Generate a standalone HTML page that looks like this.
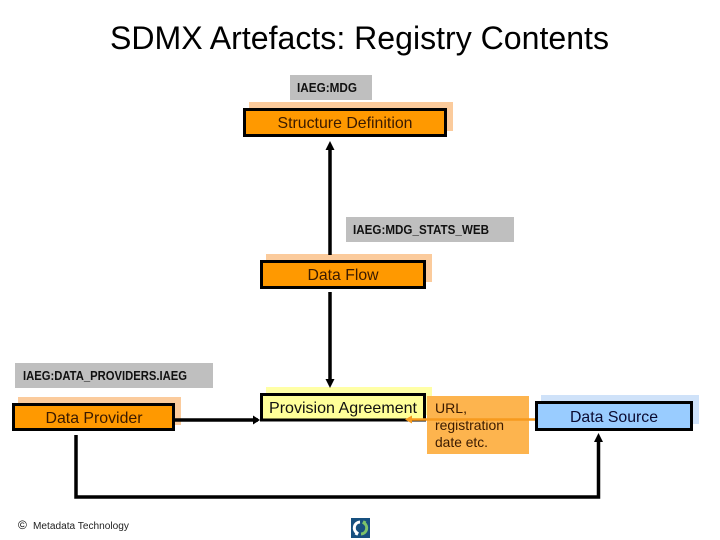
<!DOCTYPE html>
<html><head><meta charset="utf-8"><style>
html,body{margin:0;padding:0;background:#fff}
svg{display:block}
text{font-family:"Liberation Sans",sans-serif}
.b{font-family:"Liberation Sans",sans-serif;font-weight:bold;font-size:13px;fill:#111}
</style></head><body>
<svg width="720" height="540" viewBox="0 0 720 540" xmlns="http://www.w3.org/2000/svg">
<text x="110" y="49" font-size="32" fill="#000" textLength="499" lengthAdjust="spacingAndGlyphs">SDMX Artefacts: Registry Contents</text>

<rect x="290" y="75" width="82" height="25" fill="#bfbfbf"/>
<text x="297" y="92" class="b" textLength="60" lengthAdjust="spacingAndGlyphs">IAEG:MDG</text>
<rect x="249" y="102" width="204" height="29" fill="#fbcb9c"/>
<rect x="244.500" y="109.500" width="201" height="26" fill="#ff9900" stroke="#000" stroke-width="3"/>
<text x="345" y="128" font-size="16" fill="#3a1a00" text-anchor="middle" textLength="135" lengthAdjust="spacingAndGlyphs">Structure Definition</text>

<rect x="346" y="217" width="168" height="25" fill="#bfbfbf"/>
<text x="353" y="234" class="b" textLength="136" lengthAdjust="spacingAndGlyphs">IAEG:MDG_STATS_WEB</text>
<rect x="266" y="254" width="166" height="28" fill="#fbcb9c"/>
<rect x="261.500" y="261.500" width="163" height="26" fill="#ff9900" stroke="#000" stroke-width="3"/>
<text x="343" y="280" font-size="16" fill="#3a1a00" text-anchor="middle" textLength="71" lengthAdjust="spacingAndGlyphs">Data Flow</text>

<rect x="15" y="363" width="198" height="25" fill="#bfbfbf"/>
<text x="23" y="380" class="b" textLength="164" lengthAdjust="spacingAndGlyphs">IAEG:DATA_PROVIDERS.IAEG</text>
<rect x="18" y="397" width="163" height="28" fill="#fbcb9c"/>
<rect x="13.500" y="404.500" width="160" height="25" fill="#ff9900" stroke="#000" stroke-width="3"/>
<text x="94" y="423" font-size="16" fill="#3a1a00" text-anchor="middle" textLength="97" lengthAdjust="spacingAndGlyphs">Data Provider</text>

<rect x="266" y="387" width="166" height="28" fill="#ffffa6"/>
<rect x="261.500" y="394.500" width="163" height="25.500" fill="#ffff99" stroke="#000" stroke-width="3"/>
<text x="269" y="413" font-size="16" fill="#111" textLength="148" lengthAdjust="spacingAndGlyphs">Provision Agreement</text>

<rect x="427" y="396" width="102" height="58" fill="#fdb44e"/>
<text font-size="14" fill="#3a1a00"><tspan x="435" y="413" textLength="32" lengthAdjust="spacingAndGlyphs">URL,</tspan><tspan x="435" y="430" textLength="69" lengthAdjust="spacingAndGlyphs">registration</tspan><tspan x="435" y="447" textLength="53" lengthAdjust="spacingAndGlyphs">date etc.</tspan></text>

<rect x="541" y="395" width="158" height="29" fill="#cfe2f9"/>
<rect x="536.500" y="402.500" width="155" height="27" fill="#99ccff" stroke="#000" stroke-width="3"/>
<text x="614" y="422" font-size="16" fill="#0a0a30" text-anchor="middle" textLength="88" lengthAdjust="spacingAndGlyphs">Data Source</text>

<g fill="none" stroke="#000" stroke-width="3.500">
<path d="M330 255V146"/>
<path d="M330 292V382"/>
<path d="M175 420H258"/>
<path d="M76 435V497H598.500V438"/>
</g>
<g fill="#000">
<path d="M330 141l-4.500 9h9z"/>
<path d="M330 388l-4.500-9h9z"/>
<path d="M260 420l-7-4.500v9z"/>
<path d="M598.500 433l-4.500 9h9z"/>
</g>
<path d="M410 419.500H535" stroke="#f79a1e" stroke-width="2.500" fill="none"/>
<path d="M405 419.500l7-4v8z" fill="#f79a1e"/>

<text x="18" y="529" font-size="12" fill="#000">©</text>
<text x="33" y="529" font-size="10" fill="#222" textLength="96" lengthAdjust="spacingAndGlyphs">Metadata Technology</text>

<rect x="351" y="518" width="19" height="20" fill="#17507f"/>
<path d="M360 522a6 6 0 0 0-3 11l-1 2" fill="none" stroke="#fff" stroke-width="3"/>
<path d="M361 534a6 6 0 0 0 3-11l1-2" fill="none" stroke="#7cc36a" stroke-width="3"/>
</svg>
</body></html>
